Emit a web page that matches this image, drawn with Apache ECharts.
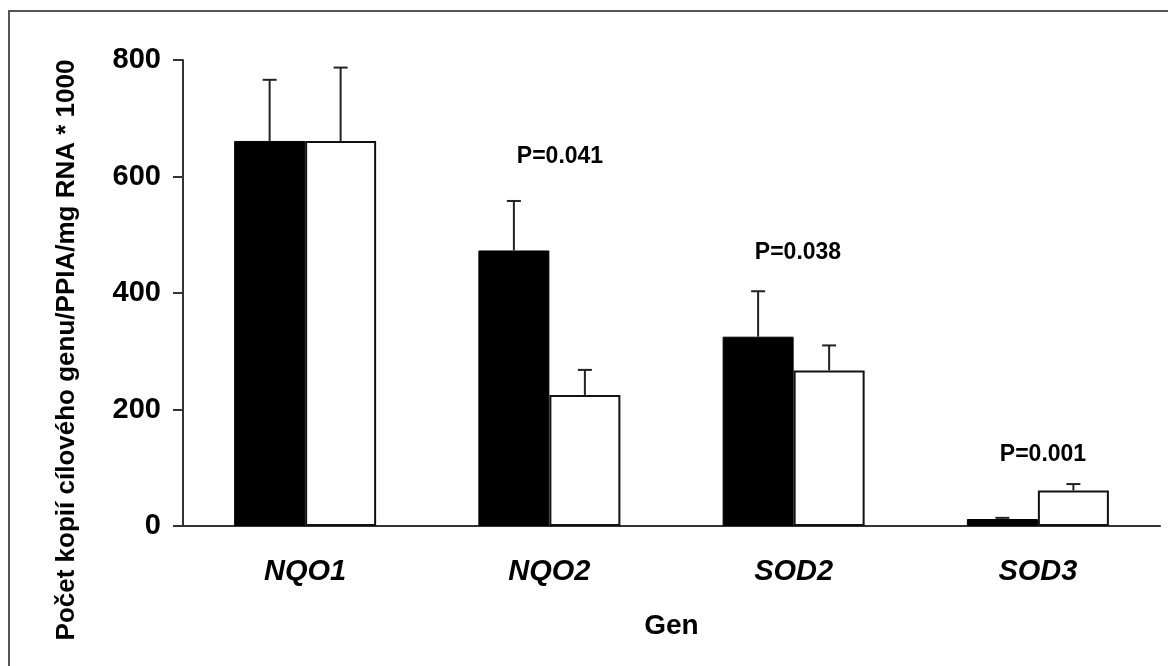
<!DOCTYPE html>
<html>
<head>
<meta charset="utf-8">
<script src="https://cdn.jsdelivr.net/npm/echarts@6/dist/echarts.min.js"></script>
<style>
html,body{margin:0;padding:0;background:#fff;}
#chart{width:1168px;height:666px;}
</style>
</head>
<body>
<div id="chart"></div>
<script>
const categories = ['NQO1', 'NQO2', 'SOD2', 'SOD3'];
const blackMeans = [661, 473, 325, 12];
const blackErr = [105, 85, 78, 2];
const whiteMeans = [661, 225, 267, 61];
const whiteErr = [126, 43, 43, 11];
const yTicks = [0, 200, 400, 600, 800];
const pLabels = ['P=0.041', 'P=0.038', 'P=0.001'];
const yName = 'Počet kopií cílového genu/PPIA/mg RNA * 1000';
const xName = 'Gen';

const BAR_W = 71;
const FONT = 'Arial, "Liberation Sans", Helvetica, sans-serif';

function errData(means, errs) {
  return means.map((m, i) => [i, m, m + errs[i]]);
}
function errRenderer(offset) {
  return function (params, api) {
    const i = api.value(0);
    const a = api.coord([i, api.value(1)]);
    const b = api.coord([i, api.value(2)]);
    const x = a[0] + offset;
    const st = { stroke: '#222', lineWidth: 2 };
    return {
      type: 'group',
      children: [
        { type: 'line', shape: { x1: x, y1: a[1], x2: x, y2: b[1] }, style: st },
        { type: 'line', shape: { x1: x - 7, y1: b[1], x2: x + 7, y2: b[1] }, style: st }
      ]
    };
  };
}

const chart = echarts.init(document.getElementById('chart'), null, { renderer: 'canvas' });
const option = {
  backgroundColor: '#fff',
  animation: false,
  grid: { left: 183, right: 8, top: 60, bottom: 140, containLabel: false },
  xAxis: {
    type: 'category',
    data: categories,
    name: xName,
    nameLocation: 'middle',
    nameGap: 86,
    nameTextStyle: { fontFamily: FONT, fontWeight: 'bold', fontSize: 28, color: '#000' },
    axisLine: { lineStyle: { color: '#333', width: 2 } },
    axisTick: { show: false },
    axisLabel: { fontFamily: FONT, fontWeight: 'bold', fontStyle: 'italic', fontSize: 29, color: '#000', margin: 31 }
  },
  yAxis: {
    type: 'value',
    min: yTicks[0],
    max: yTicks[yTicks.length - 1],
    interval: yTicks[1] - yTicks[0],
    axisLine: { show: true, lineStyle: { color: '#333', width: 2 } },
    axisTick: { show: true, length: 10, lineStyle: { color: '#333', width: 2 } },
    splitLine: { show: false },
    axisLabel: { fontFamily: FONT, fontWeight: 'bold', fontSize: 29, color: '#000', margin: 22 }
  },
  series: [
    {
      type: 'bar', data: blackMeans, barWidth: BAR_W, barGap: 0,
      itemStyle: { color: '#000', borderColor: '#000', borderWidth: 1 }
    },
    {
      type: 'bar', data: whiteMeans, barWidth: BAR_W, barGap: 0,
      itemStyle: { color: '#fff', borderColor: '#111', borderWidth: 2 }
    },
    {
      type: 'custom', data: errData(blackMeans, blackErr), renderItem: errRenderer(-BAR_W / 2), z: 5,
      encode: { x: 0, y: [1, 2] }
    },
    {
      type: 'custom', data: errData(whiteMeans, whiteErr), renderItem: errRenderer(BAR_W / 2), z: 5,
      encode: { x: 0, y: [1, 2] }
    }
  ],
  graphic: [
    { type: 'rect', shape: { x: 9, y: 11, width: 1300, height: 800 }, style: { fill: 'none', stroke: '#555', lineWidth: 2 }, silent: true, z: 100 },
    { type: 'text', x: 67, y: 350, rotation: Math.PI / 2,
      style: { text: yName, fontFamily: FONT, fontWeight: 'bold', fontSize: 26, fill: '#000', textAlign: 'center', textVerticalAlign: 'middle' } },
    { type: 'text', x: 560, y: 157,
      style: { text: pLabels[0], fontFamily: FONT, fontWeight: 'bold', fontSize: 23, fill: '#000', textAlign: 'center', textVerticalAlign: 'middle' } },
    { type: 'text', x: 798, y: 253,
      style: { text: pLabels[1], fontFamily: FONT, fontWeight: 'bold', fontSize: 23, fill: '#000', textAlign: 'center', textVerticalAlign: 'middle' } },
    { type: 'text', x: 1043, y: 455,
      style: { text: pLabels[2], fontFamily: FONT, fontWeight: 'bold', fontSize: 23, fill: '#000', textAlign: 'center', textVerticalAlign: 'middle' } }
  ]
};
chart.setOption(option);
</script>
</body>
</html>
